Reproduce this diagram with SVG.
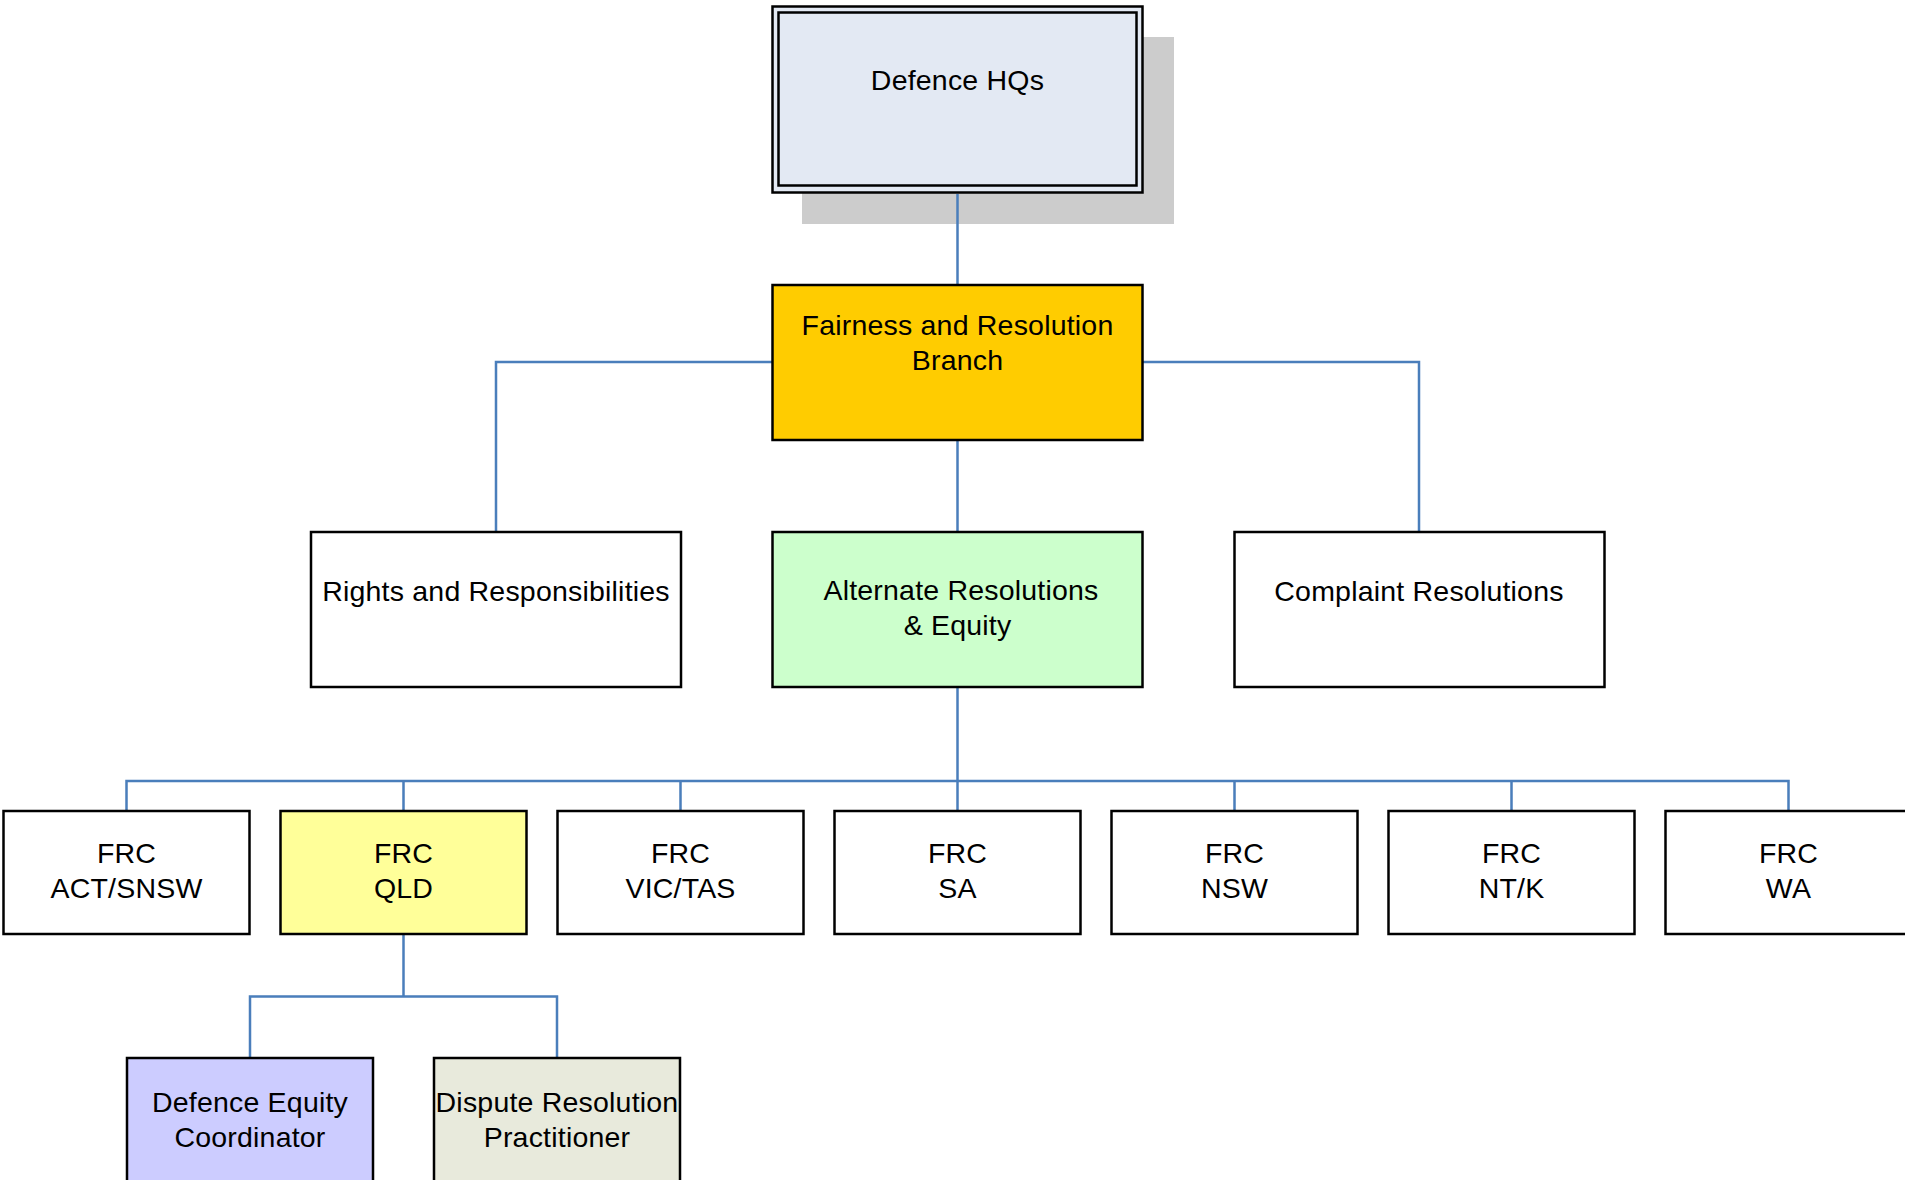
<svg xmlns="http://www.w3.org/2000/svg" width="1905" height="1180" viewBox="0 0 1905 1180">
<style>
.box{stroke:#000;stroke-width:2.5}
.t{font-family:"Liberation Sans",Arial,sans-serif;font-size:28.5px;letter-spacing:0.2px;fill:#000;text-anchor:middle}
.c{fill:none;stroke:#4a7ebb;stroke-width:2.5}
</style>
<rect width="1905" height="1180" fill="#fff"/>
<g id="hq">
<rect x="802" y="37" width="372" height="187" fill="#cccccc"/>
<rect class="box" x="772.5" y="6.5" width="370" height="186" fill="#e3e9f3"/>
<rect class="box" x="778.5" y="12.5" width="358" height="173" fill="#e3e9f3"/>
<text class="t" x="957.5" y="90">Defence HQs</text>
</g>
<g id="connectors">
<path class="c" d="M957.5,194 V285"/>
<path class="c" d="M772,362 H496 V532"/>
<path class="c" d="M1142,362 H1419 V532"/>
<path class="c" d="M957.5,440 V532"/>
<path class="c" d="M957.5,687 V811"/>
<path class="c" d="M126.5,811 V781 H1788.5 V811"/>
<path class="c" d="M403.5,781 V811 M680.5,781 V811 M1234.5,781 V811 M1511.5,781 V811"/>
<path class="c" d="M403.5,934 V996.5"/>
<path class="c" d="M250,1058 V996.5 H557 V1058"/>
</g>
<g id="fairness">
<rect class="box" x="772.5" y="285" width="370" height="155" fill="#ffcc00"/>
<text class="t" x="957.5" y="335">Fairness and Resolution</text>
<text class="t" x="957.5" y="370">Branch</text>
</g>
<g id="rights">
<rect class="box" x="311" y="532" width="370" height="155" fill="#fff"/>
<text class="t" x="496" y="601">Rights and Responsibilities</text>
</g>
<g id="alternate">
<rect class="box" x="772.5" y="532" width="370" height="155" fill="#ccffcc"/>
<text class="t" x="961" y="600">Alternate Resolutions</text>
<text class="t" x="957.5" y="635">&amp; Equity</text>
</g>
<g id="complaint">
<rect class="box" x="1234.5" y="532" width="370" height="155" fill="#fff"/>
<text class="t" x="1419" y="601">Complaint Resolutions</text>
</g>
<g id="frc-act">
<rect class="box" x="3.5" y="811" width="246" height="123" fill="#fff"/>
<text class="t" x="126.5" y="863">FRC</text><text class="t" x="126.5" y="898">ACT/SNSW</text>
</g>
<g id="frc-qld">
<rect class="box" x="280.5" y="811" width="246" height="123" fill="#ffff99"/>
<text class="t" x="403.5" y="863">FRC</text><text class="t" x="403.5" y="898">QLD</text>
</g>
<g id="frc-vic">
<rect class="box" x="557.5" y="811" width="246" height="123" fill="#fff"/>
<text class="t" x="680.5" y="863">FRC</text><text class="t" x="680.5" y="898">VIC/TAS</text>
</g>
<g id="frc-sa">
<rect class="box" x="834.5" y="811" width="246" height="123" fill="#fff"/>
<text class="t" x="957.5" y="863">FRC</text><text class="t" x="957.5" y="898">SA</text>
</g>
<g id="frc-nsw">
<rect class="box" x="1111.5" y="811" width="246" height="123" fill="#fff"/>
<text class="t" x="1234.5" y="863">FRC</text><text class="t" x="1234.5" y="898">NSW</text>
</g>
<g id="frc-ntk">
<rect class="box" x="1388.5" y="811" width="246" height="123" fill="#fff"/>
<text class="t" x="1511.5" y="863">FRC</text><text class="t" x="1511.5" y="898">NT/K</text>
</g>
<g id="frc-wa">
<rect class="box" x="1665.5" y="811" width="246" height="123" fill="#fff"/>
<text class="t" x="1788.5" y="863">FRC</text><text class="t" x="1788.5" y="898">WA</text>
</g>
<g id="equity-coordinator">
<rect class="box" x="127" y="1058" width="246" height="130" fill="#ccccff"/>
<text class="t" x="250" y="1112">Defence Equity</text><text class="t" x="250" y="1147">Coordinator</text>
</g>
<g id="dispute-practitioner">
<rect class="box" x="434" y="1058" width="246" height="130" fill="#e8eadc"/>
<text class="t" x="557" y="1112">Dispute Resolution</text><text class="t" x="557" y="1147">Practitioner</text>
</g>
</svg>
